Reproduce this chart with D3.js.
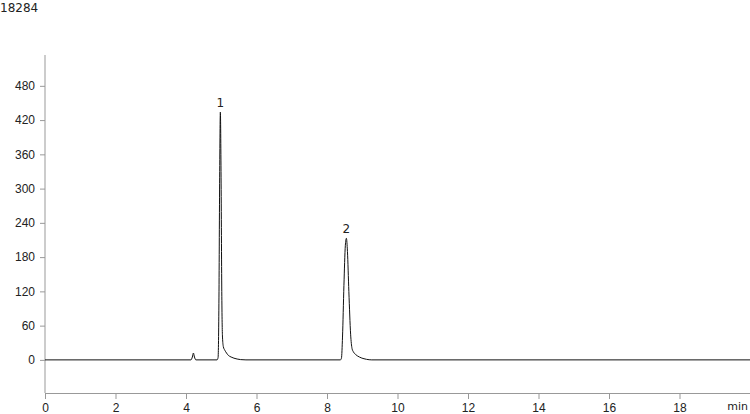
<!DOCTYPE html>
<html>
<head>
<meta charset="utf-8">
<script src="https://cdn.jsdelivr.net/npm/d3@7"></script>
<style>
  body { margin: 0; background: #fff; }
  svg { display: block; font-family: "DejaVu Sans", Verdana, sans-serif; }
</style>
</head>
<body>
<div id="chart"></div>
<script>
// chromatogram trace: [time (min), signal]
const tracePoints = [
    [0, 0], [4.14, 0], [4.18, 5], [4.21, 12], [4.24, 5], [4.28, 0],
    [4.88, 0], [4.91, 4], [4.935, 110], [4.955, 320], [4.975, 434], [4.995, 320],
    [5.015, 120], [5.035, 40], [5.06, 23], [5.1, 17], [5.15, 12], [5.2, 8],
    [5.28, 5], [5.36, 3], [5.45, 1.5], [5.55, 0.5], [5.7, 0],
    [8.38, 0], [8.41, 3], [8.44, 40], [8.48, 130], [8.52, 200], [8.55, 213],
    [8.58, 190], [8.62, 120], [8.67, 45], [8.71, 20], [8.75, 14], [8.82, 9],
    [8.92, 5], [9.02, 2.5], [9.12, 1], [9.27, 0], [20, 0]
];
const peakLabels = [
    { name: '1', time: 4.975, value: 434 },
    { name: '2', time: 8.55, value: 213 }
];
const xTicks = [0, 2, 4, 6, 8, 10, 12, 14, 16, 18];
const yTicks = [0, 60, 120, 180, 240, 300, 360, 420, 480];
const topLabel = '18284';
const xUnit = 'min';

const width = 750, height = 414;
const svg = d3.select('#chart').append('svg')
    .attr('width', width)
    .attr('height', height);

const x = d3.scaleLinear().domain([0, 20]).range([45, 750]);
const y = d3.scaleLinear().domain([-58, 534]).range([393, 55]);

const axisColor = '#999';
const textColor = '#222';

// y axis
svg.append('line')
    .attr('x1', 45).attr('x2', 45)
    .attr('y1', y(534)).attr('y2', y(-58))
    .attr('stroke', axisColor);
const yg = svg.append('g').attr('transform', 'translate(45,0)')
    .call(d3.axisLeft(y).tickValues(yTicks).tickSize(5).tickPadding(5));
yg.select('.domain').remove();
yg.selectAll('line').attr('stroke', axisColor);
yg.selectAll('text').attr('fill', textColor).attr('font-size', 12);

// x axis
const xg = svg.append('g').attr('transform', `translate(0,${y(-58)})`)
    .call(d3.axisBottom(x).tickValues(xTicks).tickSize(6).tickPadding(4));
xg.select('.domain').attr('stroke', axisColor);
xg.selectAll('line').attr('stroke', axisColor);
xg.selectAll('text').attr('fill', textColor).attr('font-size', 12);

svg.append('text')
    .attr('x', 748).attr('y', 410)
    .attr('text-anchor', 'end')
    .attr('font-size', 11)
    .attr('fill', textColor)
    .text(xUnit);

svg.append('text')
    .attr('x', 0).attr('y', 12)
    .attr('font-size', 12)
    .attr('fill', textColor)
    .text(topLabel);

// trace
const line = d3.line()
    .x(d => x(d[0]))
    .y(d => y(d[1]))
    .curve(d3.curveMonotoneX);

svg.append('path')
    .datum(tracePoints)
    .attr('d', line)
    .attr('fill', 'none')
    .attr('stroke', '#111')
    .attr('stroke-width', 1);

svg.selectAll('.peak-label')
    .data(peakLabels)
    .enter().append('text')
    .attr('class', 'peak-label')
    .attr('x', d => x(d.time))
    .attr('y', d => y(d.value) - 5)
    .attr('text-anchor', 'middle')
    .attr('font-size', 12)
    .attr('fill', textColor)
    .text(d => d.name);
</script>
</body>
</html>
